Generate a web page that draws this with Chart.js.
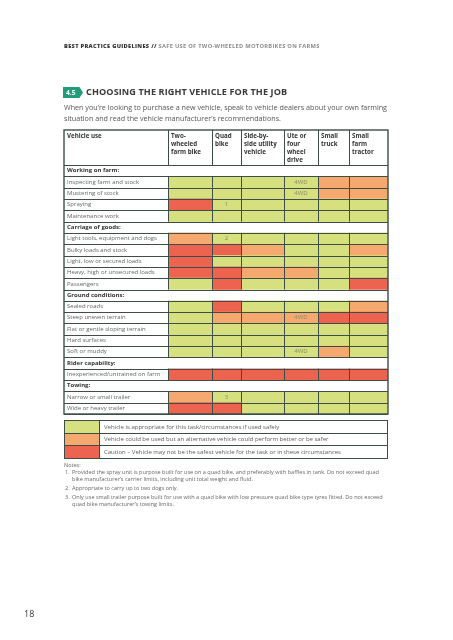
<!DOCTYPE html>
<html>
<head>
<meta charset="utf-8">
<script src="https://cdn.jsdelivr.net/npm/chart.js@4.4.0/dist/chart.umd.min.js"></script>
<style>
  body { margin: 0; width: 453px; height: 640px; background: #fff; position: relative; overflow: hidden;
         font-family: 'Open Sans', sans-serif; color: #5a5a5a; }
  .abs { position: absolute; white-space: nowrap; will-change: transform; }
  #runhead { left: 64px; top: 42px; font-size: 5.7px; font-weight: 700; letter-spacing: 0.3px; color: #8c8c8c; }
  #runhead b { color: #333; }
  #badge { left: 63px; top: 87px; width: 20px; height: 11px; background: #1f9c78; color: #fff; font-size: 6.6px;
           font-weight: 700; line-height: 11px; text-indent: 3px;
           clip-path: polygon(0 0, 82% 0, 100% 50%, 82% 100%, 0 100%); }
  #title { left: 86px; top: 86px; font-size: 9.1px; font-weight: 700; color: #3a3a3a; letter-spacing: 0.1px; line-height: 12px; }
  #intro { left: 64px; top: 102px; font-size: 7.2px; line-height: 11px; color: #555; }
  #tableWrap { position: absolute; left: 60px; top: 126px; width: 333px; height: 293px; }
  #legend { position: absolute; left: 64px; top: 420px; width: 324px; border-collapse: collapse; will-change: transform; }
  #legend td { border: 1px solid #3d4d47; height: 11.5px; padding: 0 0 0 4px; font-size: 6px; color: #5a5a5a; }
  #legend td.sw { width: 34px; padding: 0; }
  #notes { left: 64px; top: 462px; font-size: 5.55px; line-height: 7px; color: #666; }
  #notes div { position: relative; padding-left: 8px; margin-bottom: 2px; }
  #notes div span { position: absolute; left: 1px; }
  #page { left: 24px; top: 607px; font-size: 9px; color: #333; }
</style>
</head>
<body>
<div class="abs" id="runhead"><b>BEST PRACTICE GUIDELINES //</b> SAFE USE OF TWO-WHEELED MOTORBIKES ON FARMS</div>
<div class="abs" id="badge">4.5</div>
<div class="abs" id="title">CHOOSING THE RIGHT VEHICLE FOR THE JOB</div>
<div class="abs" id="intro">When you’re looking to purchase a new vehicle, speak to vehicle dealers about your own farming<br>situation and read the vehicle manufacturer’s recommendations.</div>
<div id="tableWrap"><canvas id="vehicleChart"></canvas></div>
<table id="legend"></table>
<div class="abs" id="notes">
  Notes:
  <div><span>1.</span>Provided the spray unit is purpose built for use on a quad bike, and preferably with baffles in tank. Do not exceed quad<br>bike manufacturer’s carrier limits, including unit total weight and fluid.</div>
  <div><span>2.</span>Appropriate to carry up to two dogs only.</div>
  <div><span>3.</span>Only use small trailer purpose built for use with a quad bike with low pressure quad bike type tyres fitted. Do not exceed<br>quad bike manufacturer’s towing limits.</div>
</div>
<div class="abs" id="page">18</div>

<script>
// Column headings (one array entry per line)
var vehicles = [
  ['Two-', 'wheeled', 'farm bike'],
  ['Quad', 'bike'],
  ['Side-by-', 'side utility', 'vehicle'],
  ['Ute or', 'four', 'wheel', 'drive'],
  ['Small', 'truck'],
  ['Small', 'farm', 'tractor']
];

var rowLabels = [
  'Working on farm:',
  'Inspecting farm and stock', 'Mustering of stock', 'Spraying', 'Maintenance work',
  'Carriage of goods:',
  'Light tools, equipment and dogs', 'Bulky loads and stock', 'Light, low or secured loads',
  'Heavy, high or unsecured loads', 'Passengers',
  'Ground conditions:',
  'Sealed roads', 'Steep uneven terrain', 'Flat or gentle sloping terrain', 'Hard surfaces', 'Soft or muddy',
  'Rider capability:',
  'Inexperienced/untrained on farm',
  'Towing:',
  'Narrow or small trailer', 'Wide or heavy trailer'
];

var sectionRows = ['Working on farm:', 'Carriage of goods:', 'Ground conditions:', 'Rider capability:', 'Towing:'];

// 0 = appropriate, 1 = alternative could be better, 2 = caution, null = section heading
var twoWheeled  = [null, 0, 0, 2, 0, null, 1, 2, 2, 2, 0, null, 0, 0, 0, 0, 0, null, 2, null, 1, 2];
var quadBike    = [null, 0, 0, 0, 0, null, 0, 2, 0, 2, 2, null, 2, 1, 0, 0, 0, null, 2, null, 0, 2];
var sideBySide  = [null, 0, 0, 0, 0, null, 0, 1, 0, 1, 0, null, 0, 1, 0, 0, 0, null, 2, null, 0, 0];
var uteFourWd   = [null, 0, 0, 0, 0, null, 0, 0, 0, 1, 0, null, 0, 1, 0, 0, 0, null, 2, null, 0, 0];
var smallTruck  = [null, 1, 1, 0, 0, null, 0, 0, 0, 0, 0, null, 0, 2, 0, 0, 1, null, 2, null, 0, 0];
var farmTractor = [null, 1, 1, 0, 0, null, 0, 1, 0, 0, 2, null, 1, 2, 0, 0, 0, null, 2, null, 0, 0];

var ratingSeries = [twoWheeled, quadBike, sideBySide, uteFourWd, smallTruck, farmTractor];

// small notes written inside some cells
var cellNotes = [
  { row: 'Inspecting farm and stock', col: 3, text: '4WD' },
  { row: 'Mustering of stock', col: 3, text: '4WD' },
  { row: 'Spraying', col: 1, text: '1' },
  { row: 'Light tools, equipment and dogs', col: 1, text: '2' },
  { row: 'Steep uneven terrain', col: 3, text: '4WD' },
  { row: 'Soft or muddy', col: 3, text: '4WD' },
  { row: 'Narrow or small trailer', col: 1, text: '3' }
];

var ratingLabels = [
  'Vehicle is appropriate for this task/circumstances if used safely',
  'Vehicle could be used but an alternative vehicle could perform better or be safer',
  'Caution – Vehicle may not be the safest vehicle for the task or in these circumstances'
];

// layout / style
var ratingColours = ['#d6e07f', '#f6a96f', '#ec6450'];
var colWidths = [44, 29, 43, 34, 31, 39];
var labelColWidth = 104;
var lineColour = '#3d4d47';
var fontFamily = "'Open Sans', sans-serif";

var colStarts = [];
var acc = 0;
colWidths.forEach(function (w) { colStarts.push(acc); acc += w; });
var totalWidth = acc;

// legend rows
var legend = document.getElementById('legend');
ratingLabels.forEach(function (txt, i) {
  var tr = document.createElement('tr');
  var sw = document.createElement('td');
  sw.className = 'sw';
  sw.style.background = ratingColours[i];
  var td = document.createElement('td');
  td.textContent = txt;
  tr.appendChild(sw);
  tr.appendChild(td);
  legend.appendChild(tr);
});

// Draw the table lines, the corner heading and the cell notes
var tableGrid = {
  id: 'tableGrid',
  afterDatasetsDraw: function (chart) {
    var ctx = chart.ctx, a = chart.chartArea, x = chart.scales.x, y = chart.scales.y;
    var n = rowLabels.length;
    var left = a.left - labelColWidth;
    var top = x.top;
    function edge(i) {
      if (i === 0) return a.top;
      if (i === n) return a.bottom;
      return (y.getPixelForValue(i - 1) + y.getPixelForValue(i)) / 2;
    }
    function line(x1, y1, x2, y2) {
      ctx.beginPath(); ctx.moveTo(x1, y1); ctx.lineTo(x2, y2); ctx.stroke();
    }
    ctx.save();
    ctx.strokeStyle = lineColour;
    ctx.lineWidth = 1;
    for (var i = 0; i <= n; i++) {
      var yy = Math.round(edge(i)) + 0.5;
      line(left, yy, a.right, yy);
    }
    var xs = [a.left].concat(colStarts.slice(1).map(function (v) { return x.getPixelForValue(v); }));
    xs.forEach(function (px) {
      px = Math.round(px) + 0.5;
      line(px, top, px, a.top);
      for (var r = 0; r < n; r++) {
        if (sectionRows.indexOf(rowLabels[r]) >= 0) continue;
        line(px, edge(r), px, edge(r + 1));
      }
    });
    ctx.lineWidth = 1.4;
    ctx.strokeRect(left, top, a.right - left, a.bottom - top);

    ctx.fillStyle = '#333';
    ctx.font = 'bold 6.2px ' + fontFamily;
    ctx.textBaseline = 'middle';
    ctx.textAlign = 'left';
    ctx.fillText('Vehicle use', left + 3, top + 6.5);

    ctx.fillStyle = '#8a8a6a';
    ctx.font = '6px ' + fontFamily;
    ctx.textAlign = 'center';
    cellNotes.forEach(function (note) {
      var bar = chart.getDatasetMeta(note.col).data[rowLabels.indexOf(note.row)];
      var p = bar.getProps(['x', 'y', 'base'], true);
      ctx.fillText(note.text, (p.x + p.base) / 2, p.y);
    });
    ctx.restore();
  }
};

var data = {
  labels: rowLabels,
  datasets: ratingSeries.map(function (series, i) {
    return {
      label: vehicles[i].join(' '),
      data: series.map(function (r) { return r === null ? null : colWidths[i]; }),
      backgroundColor: series.map(function (r) { return r === null ? 'rgba(0,0,0,0)' : ratingColours[r]; }),
      borderWidth: 0,
      barPercentage: 1,
      categoryPercentage: 1
    };
  })
};

var options = {
  indexAxis: 'y',
  responsive: true,
  maintainAspectRatio: false,
  animation: false,
  events: [],
  layout: { padding: { left: 7, top: 4, right: 5, bottom: 5 } },
  plugins: { legend: { display: false }, tooltip: { enabled: false } },
  scales: {
    x: {
      type: 'linear',
      position: 'top',
      stacked: true,
      min: 0,
      max: totalWidth,
      grid: { display: false, drawTicks: false },
      border: { display: false },
      afterBuildTicks: function (scale) {
        scale.ticks = colStarts.map(function (v) { return { value: v }; });
      },
      afterFit: function (scale) { scale.height = 35; },
      ticks: {
        autoSkip: false,
        maxRotation: 0,
        minRotation: 0,
        align: 'start',
        crossAlign: 'far',
        labelOffset: 3,
        padding: 1,
        color: '#333',
        font: { family: fontFamily, size: 6.2, weight: 'bold', lineHeight: 1.3 },
        callback: function (value, index) { return vehicles[index]; }
      }
    },
    y: {
      type: 'category',
      stacked: true,
      grid: { display: false },
      border: { display: false },
      afterFit: function (scale) { scale.width = labelColWidth - 3; },
      ticks: {
        autoSkip: false,
        crossAlign: 'far',
        padding: 0,
        color: function (c) { return sectionRows.indexOf(rowLabels[c.index]) >= 0 ? '#333' : '#666'; },
        font: function (c) {
          return {
            family: fontFamily,
            size: 6,
            weight: sectionRows.indexOf(rowLabels[c.index]) >= 0 ? 'bold' : 'normal'
          };
        }
      }
    }
  }
};

var ctx = document.getElementById('vehicleChart').getContext('2d');
var vehicleChart = new Chart(ctx, {
  type: 'bar',
  data: data,
  options: options,
  plugins: [tableGrid]
});
</script>
</body>
</html>
